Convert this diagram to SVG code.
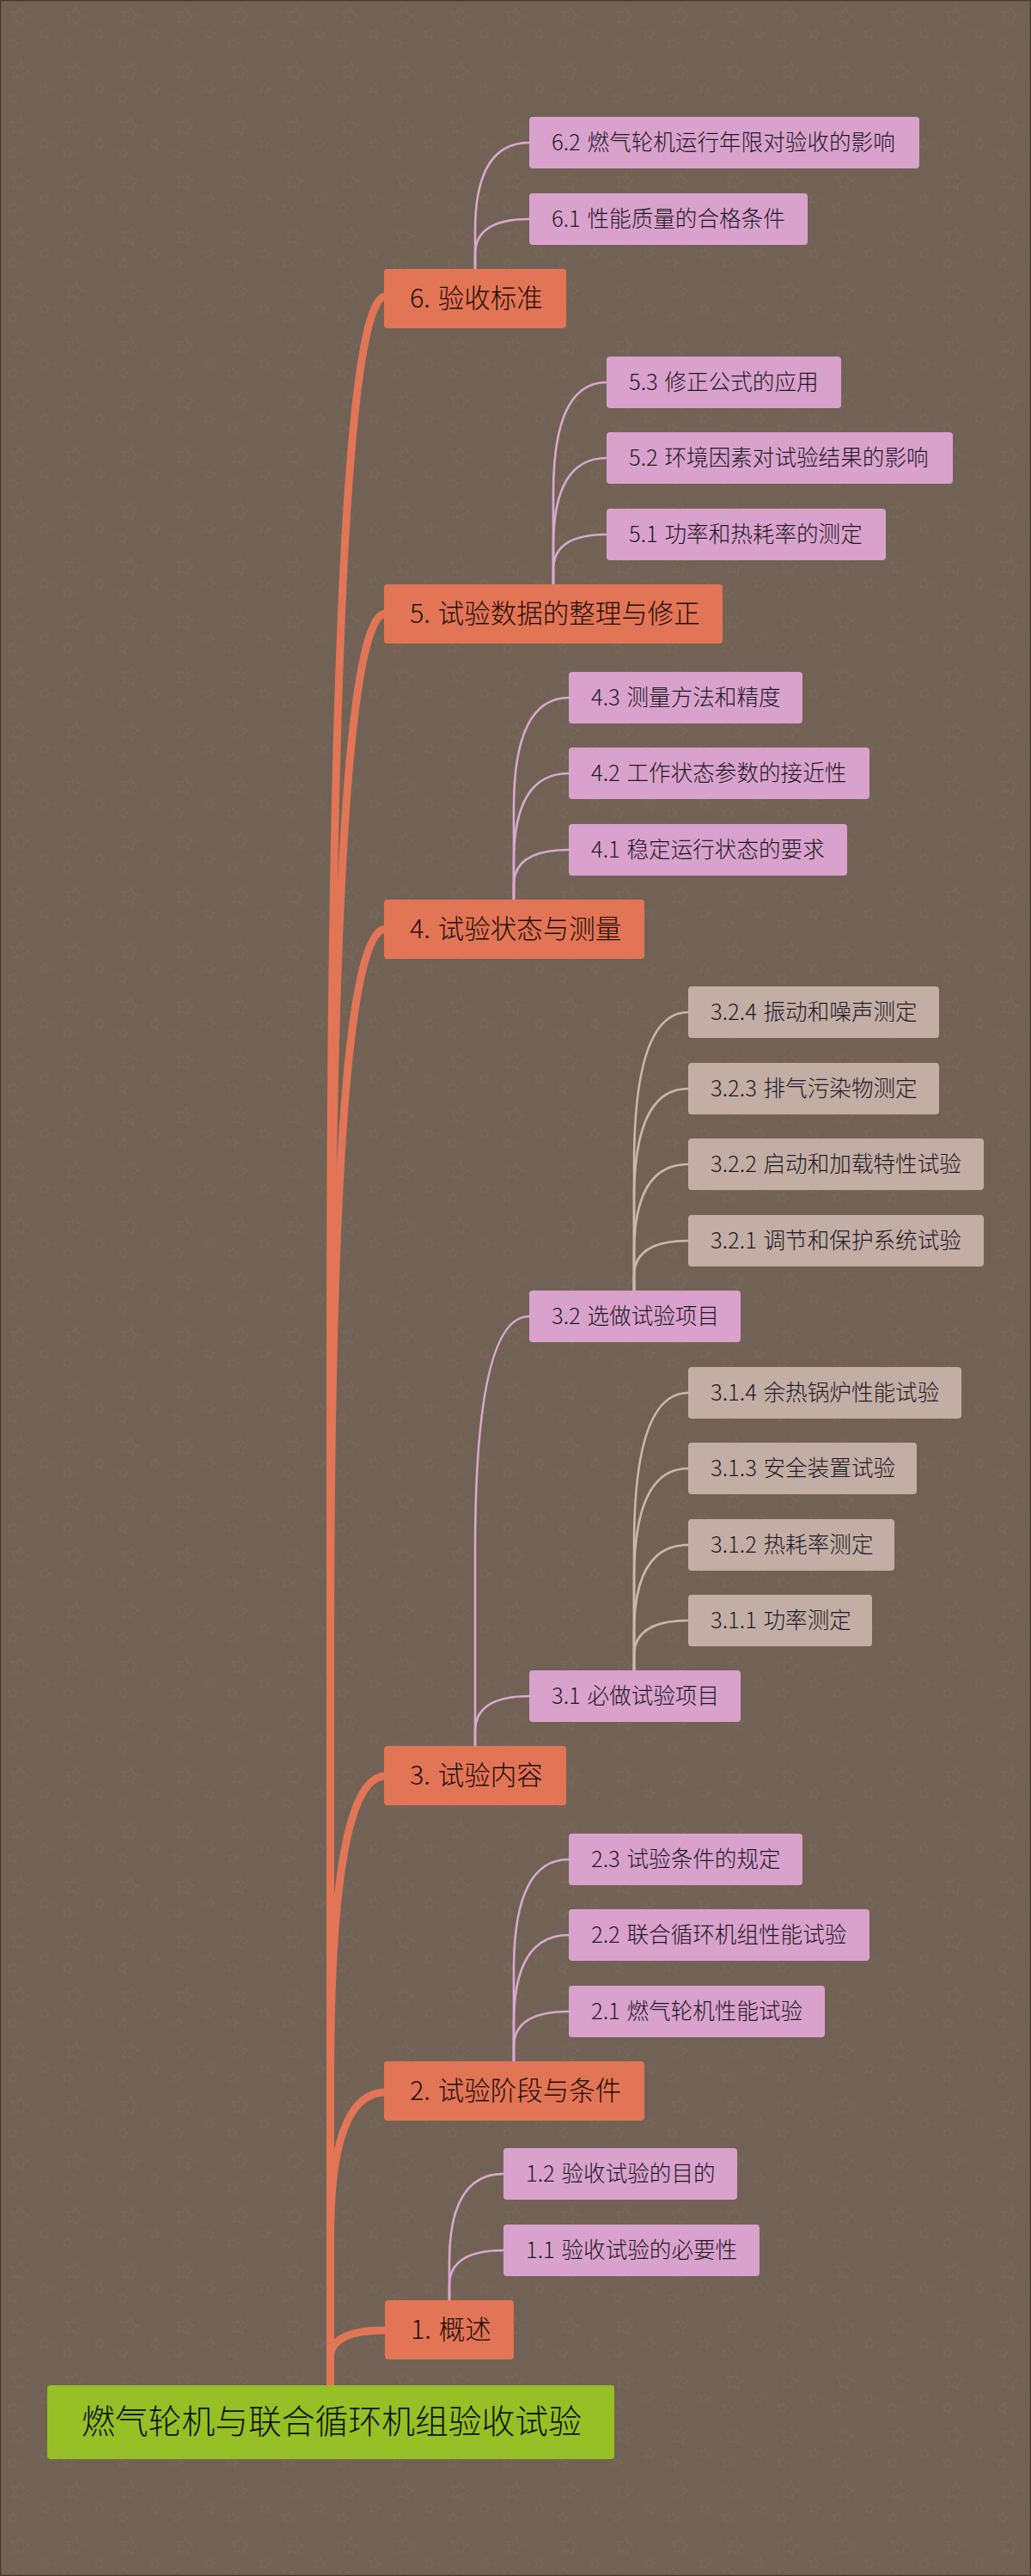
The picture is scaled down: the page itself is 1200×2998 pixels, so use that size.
<svg xmlns="http://www.w3.org/2000/svg" width="1200" height="2998" viewBox="0 0 1200 2998">
<style>
text{font-family:"Noto Sans CJK SC","Noto Sans",sans-serif;font-weight:300;fill:#1f1826;word-spacing:2px}
.root rect{fill:#97bf26}.root text{font-size:38.8px;fill:#0a1203;word-spacing:0}
.t rect{fill:#e27556}.t text{font-size:30.5px;fill:#1e0c07}
.s rect{fill:#d9a2cc}.s text{font-size:25.6px}
.l rect{fill:#c2aea5}.l text{font-size:25.6px}
.m{fill:none;stroke:#e27556;stroke-width:9}
.a{fill:none;stroke:#d9a9cf;stroke-width:2.6}
.b{fill:none;stroke:#c9b8ae;stroke-width:2.6}
</style>
<defs>
<pattern id="stars" width="64" height="64" patternUnits="userSpaceOnUse">
<g fill="none" stroke="#776758" stroke-width="1.4">
<path transform="rotate(12 23 18)" d="M23 8l3 7 7 1-5 5 1 7-6-3-6 3 1-7-5-5 7-1z"/>
<path transform="rotate(12 52 39)" d="M52 33l2 4 4 .6-3 3 .7 4-3.7-2-3.7 2 .7-4-3-3 4-.6z"/>
<path transform="rotate(12 15 50)" d="M15 44l2 4 4 .6-3 3 .7 4-3.7-2-3.7 2 .7-4-3-3 4-.6z"/>
</g>
</pattern>
</defs>
<rect width="1200" height="2998" fill="#726255"/>
<rect width="1200" height="2998" fill="url(#stars)"/>
<rect x="0.5" y="0.5" width="1199" height="2997" fill="none" stroke="#46392f" stroke-width="1.5"/>
<g id="connectors">
<path class="m" d="M384.500 2778V2744Q384.500 2712 449 2712"/>
<path class="m" d="M384.500 2778V2605Q384.500 2435 449 2435"/>
<path class="m" d="M384.500 2778V2422Q384.500 2067 449 2067"/>
<path class="m" d="M384.500 2778V1928Q384.500 1081 449 1081"/>
<path class="m" d="M384.500 2778V1745Q384.500 714 449 714"/>
<path class="m" d="M384.500 2778V1560Q384.500 345 449 345"/>
<path class="a" d="M553 313V269Q553 166 616 166"/>
<path class="a" d="M553 313V296Q553 255 616 255"/>
<path class="a" d="M644 680V574Q644 445 706 445"/>
<path class="a" d="M644 680V636Q644 533 706 533"/>
<path class="a" d="M644 680V663Q644 622 706 622"/>
<path class="a" d="M598 1047V941Q598 812 662 812"/>
<path class="a" d="M598 1047V1003Q598 900 662 900"/>
<path class="a" d="M598 1047V1030Q598 989 662 989"/>
<path class="a" d="M553 2032V1807Q553 1532 616 1532"/>
<path class="a" d="M553 2032V2015Q553 1974 616 1974"/>
<path class="b" d="M738 1502V1356Q738 1178 801 1178"/>
<path class="b" d="M738 1502V1396Q738 1267 801 1267"/>
<path class="b" d="M738 1502V1458Q738 1355 801 1355"/>
<path class="b" d="M738 1502V1485Q738 1444 801 1444"/>
<path class="b" d="M738 1944V1799Q738 1621 801 1621"/>
<path class="b" d="M738 1944V1838Q738 1709 801 1709"/>
<path class="b" d="M738 1944V1900Q738 1798 801 1798"/>
<path class="b" d="M738 1944V1927Q738 1886 801 1886"/>
<path class="a" d="M598 2399V2293Q598 2164 662 2164"/>
<path class="a" d="M598 2399V2355Q598 2252 662 2252"/>
<path class="a" d="M598 2399V2382Q598 2341 662 2341"/>
<path class="a" d="M523 2677V2633Q523 2530 586 2530"/>
<path class="a" d="M523 2677V2660Q523 2619 586 2619"/>
</g>
<g id="n62" class="s"><rect x="616" y="136" width="454" height="60" rx="4"/><text x="642" y="175">6.2 燃气轮机运行年限对验收的影响</text></g>
<g id="n61" class="s"><rect x="616" y="225" width="324" height="60" rx="4"/><text x="642" y="264">6.1 性能质量的合格条件</text></g>
<g id="n6" class="t"><rect x="447" y="313" width="212" height="69" rx="4"/><text x="477" y="358">6. 验收标准</text></g>
<g id="n53" class="s"><rect x="706" y="415" width="273" height="60" rx="4"/><text x="732" y="454">5.3 修正公式的应用</text></g>
<g id="n52" class="s"><rect x="706" y="503" width="403" height="60" rx="4"/><text x="732" y="542">5.2 环境因素对试验结果的影响</text></g>
<g id="n51" class="s"><rect x="706" y="592" width="325" height="60" rx="4"/><text x="732" y="631">5.1 功率和热耗率的测定</text></g>
<g id="n5" class="t"><rect x="447" y="680" width="394" height="69" rx="4"/><text x="477" y="725">5. 试验数据的整理与修正</text></g>
<g id="n43" class="s"><rect x="662" y="782" width="272" height="60" rx="4"/><text x="688" y="821">4.3 测量方法和精度</text></g>
<g id="n42" class="s"><rect x="662" y="870" width="350" height="60" rx="4"/><text x="688" y="909">4.2 工作状态参数的接近性</text></g>
<g id="n41" class="s"><rect x="662" y="959" width="324" height="60" rx="4"/><text x="688" y="998">4.1 稳定运行状态的要求</text></g>
<g id="n4" class="t"><rect x="447" y="1047" width="303" height="69" rx="4"/><text x="477" y="1092">4. 试验状态与测量</text></g>
<g id="n324" class="l"><rect x="801" y="1148" width="292" height="60" rx="4"/><text x="827" y="1187">3.2.4 振动和噪声测定</text></g>
<g id="n323" class="l"><rect x="801" y="1237" width="292" height="60" rx="4"/><text x="827" y="1276">3.2.3 排气污染物测定</text></g>
<g id="n322" class="l"><rect x="801" y="1325" width="344" height="60" rx="4"/><text x="827" y="1364">3.2.2 启动和加载特性试验</text></g>
<g id="n321" class="l"><rect x="801" y="1414" width="344" height="60" rx="4"/><text x="827" y="1453">3.2.1 调节和保护系统试验</text></g>
<g id="n32" class="s"><rect x="616" y="1502" width="246" height="60" rx="4"/><text x="642" y="1541">3.2 选做试验项目</text></g>
<g id="n314" class="l"><rect x="801" y="1591" width="318" height="60" rx="4"/><text x="827" y="1630">3.1.4 余热锅炉性能试验</text></g>
<g id="n313" class="l"><rect x="801" y="1679" width="266" height="60" rx="4"/><text x="827" y="1718">3.1.3 安全装置试验</text></g>
<g id="n312" class="l"><rect x="801" y="1768" width="240" height="60" rx="4"/><text x="827" y="1807">3.1.2 热耗率测定</text></g>
<g id="n311" class="l"><rect x="801" y="1856" width="214" height="60" rx="4"/><text x="827" y="1895">3.1.1 功率测定</text></g>
<g id="n31" class="s"><rect x="616" y="1944" width="246" height="60" rx="4"/><text x="642" y="1983">3.1 必做试验项目</text></g>
<g id="n3" class="t"><rect x="447" y="2032" width="212" height="69" rx="4"/><text x="477" y="2077">3. 试验内容</text></g>
<g id="n23" class="s"><rect x="662" y="2134" width="272" height="60" rx="4"/><text x="688" y="2173">2.3 试验条件的规定</text></g>
<g id="n22" class="s"><rect x="662" y="2222" width="350" height="60" rx="4"/><text x="688" y="2261">2.2 联合循环机组性能试验</text></g>
<g id="n21" class="s"><rect x="662" y="2311" width="298" height="60" rx="4"/><text x="688" y="2350">2.1 燃气轮机性能试验</text></g>
<g id="n2" class="t"><rect x="447" y="2399" width="303" height="69" rx="4"/><text x="477" y="2444">2. 试验阶段与条件</text></g>
<g id="n12" class="s"><rect x="586" y="2500" width="272" height="60" rx="4"/><text x="612" y="2539">1.2 验收试验的目的</text></g>
<g id="n11" class="s"><rect x="586" y="2589" width="298" height="60" rx="4"/><text x="612" y="2628">1.1 验收试验的必要性</text></g>
<g id="n1" class="t"><rect x="448" y="2677" width="150" height="69" rx="4"/><text x="478" y="2722">1. 概述</text></g>
<g id="root" class="root"><rect x="55" y="2776" width="660" height="86" rx="4"/><text x="95" y="2832">燃气轮机与联合循环机组验收试验</text></g>
</svg>
